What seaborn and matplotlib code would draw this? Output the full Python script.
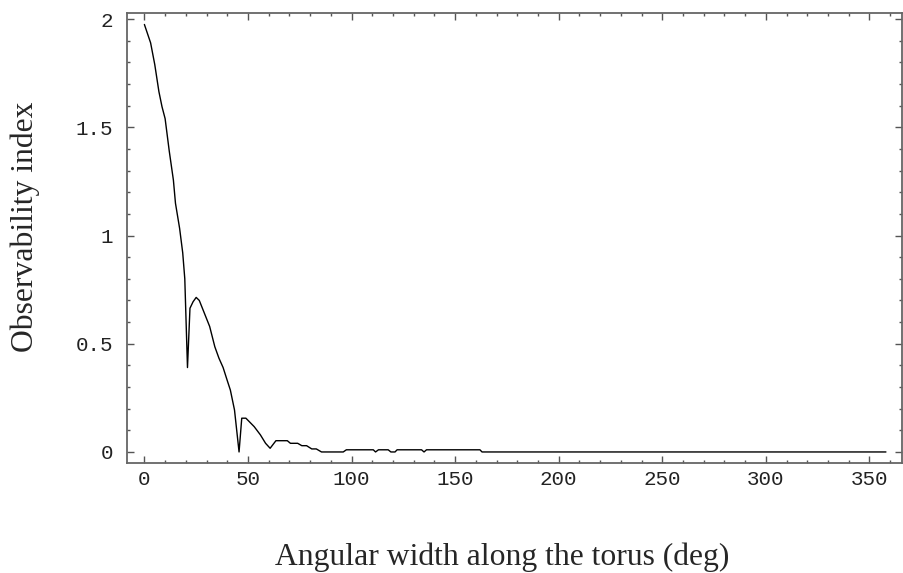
import matplotlib
matplotlib.use("Agg")
import matplotlib.pyplot as plt
from matplotlib.ticker import MultipleLocator
import numpy as np
import pandas as pd
import seaborn as sns

# Observability index versus angular width along the torus
angle_deg = [0, 3, 5, 7, 8.5, 10, 12, 14, 15, 17, 18.5, 19.5, 20.8, 22, 23.5,
             25, 26.5, 29, 31.5, 34, 36, 38, 40, 41.5, 43.5, 45.7, 47, 49, 53,
             56, 58.5, 60.7, 63.5, 69, 70.5, 74, 76, 78.3, 80.8, 83, 85.5, 96,
             97.5, 110.5, 111.6, 113, 117.7, 119, 121, 122, 133.8, 135, 136.2,
             162, 163, 358]
obs_index = [1.975, 1.89, 1.79, 1.665, 1.595, 1.54, 1.39, 1.256, 1.149, 1.033,
             0.92, 0.80, 0.39, 0.664, 0.694, 0.714, 0.70, 0.64, 0.58, 0.486,
             0.433, 0.39, 0.33, 0.286, 0.194, 0.0, 0.156, 0.156, 0.117, 0.079,
             0.04, 0.017, 0.052, 0.052, 0.04, 0.04, 0.029, 0.029, 0.014, 0.014,
             0.0, 0.0, 0.01, 0.01, 0.0, 0.01, 0.01, 0.0, 0.0, 0.01, 0.01, 0.0,
             0.01, 0.01, 0.0, 0.0]

x_ticks = [0, 50, 100, 150, 200, 250, 300, 350]
y_ticks = [0, 0.5, 1, 1.5, 2]
y_tick_labels = ["0", "0.5", "1", "1.5", "2"]

df = pd.DataFrame({"angle": angle_deg, "obs": obs_index})

sns.set_style("ticks")
plt.rcParams["font.family"] = ["Liberation Mono", "DejaVu Sans"]

fig = plt.figure(figsize=(9.04, 5.73), dpi=100)
ax = fig.add_axes([127 / 904, 110 / 573, 775.5 / 904, 450 / 573])

sns.lineplot(data=df, x="angle", y="obs", ax=ax, color="black",
             linewidth=1.0, estimator=None, sort=False)

ax.set_xlim(-8.4, 366)
ax.set_ylim(-0.051, 2.028)
ax.set_xticks(x_ticks)
ax.set_xticklabels([str(v) for v in x_ticks])
ax.set_yticks(y_ticks)
ax.set_yticklabels(y_tick_labels)
ax.xaxis.set_minor_locator(MultipleLocator(10))
ax.yaxis.set_minor_locator(MultipleLocator(0.1))

ax.tick_params(which="both", direction="in", top=True, right=True,
               colors="#555555", labelcolor="#222222", labelsize=15, width=1.0)
ax.tick_params(which="major", length=5)
ax.tick_params(which="minor", length=2.5)
ax.tick_params(axis="x", which="major", pad=5)
ax.tick_params(axis="y", which="major", pad=10)

for side in ["left", "right", "top", "bottom"]:
    ax.spines[side].set_visible(True)
    ax.spines[side].set_color("#666666")
    ax.spines[side].set_linewidth(1.3)

serif = {"family": ["Liberation Serif", "DejaVu Serif"], "size": 22.8}
ax.set_xlabel("Angular width along the torus (deg)", fontdict=serif)
ax.set_ylabel("Observability index", fontdict=serif)
ax.xaxis.label.set_va("center")
ax.yaxis.label.set_va("center")
ax.xaxis.set_label_coords(0.4842, -0.2089)
ax.yaxis.set_label_coords(-0.1315, 0.5256)
ax.grid(False)

fig.savefig("out.png", dpi=100)
